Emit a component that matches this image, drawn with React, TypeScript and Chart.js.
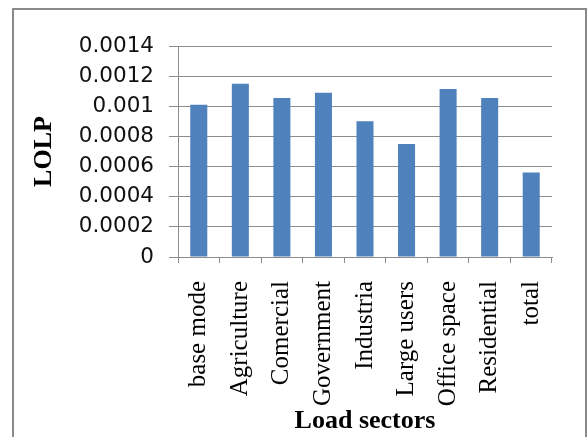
import React, { useEffect, useRef } from "react";
import { Chart, registerables } from "chart.js";

Chart.register(...registerables);

const categories = [
  "base mode",
  "Agriculture",
  "Comercial",
  "Government",
  "Industria",
  "Large users",
  "Office space",
  "Residential",
  "total",
];
const lolpValues = [0.00101, 0.00115, 0.001055, 0.00109, 0.0009, 0.00075, 0.001115, 0.001055, 0.00056];
const yTickValues = [0, 0.0002, 0.0004, 0.0006, 0.0008, 0.001, 0.0012, 0.0014];
const yTickLabels = ["0", "0.0002", "0.0004", "0.0006", "0.0008", "0.001", "0.0012", "0.0014"];

const GRID = "#8c8c8c";

export default function App() {
  const ref = useRef<HTMLCanvasElement | null>(null);

  useEffect(() => {
    if (!ref.current) return;
    const chart = new Chart(ref.current, {
      type: "bar",
      data: {
        labels: categories,
        datasets: [
          {
            data: lolpValues,
            backgroundColor: "#4F81BD",
            categoryPercentage: 1,
            barPercentage: 0.41,
          },
        ],
      },
      options: {
        responsive: false,
        animation: false,
        layout: { padding: { top: 46, right: 36, bottom: 0, left: 0 } },
        plugins: { legend: { display: false }, tooltip: { enabled: false } },
        scales: {
          x: {
            grid: {
              display: true,
              drawOnChartArea: false,
              drawTicks: true,
              tickLength: 6,
              color: GRID,
              offset: true,
            },
            border: { display: true, color: GRID, width: 1 },
            ticks: {
              autoSkip: false,
              maxRotation: 90,
              minRotation: 90,
              padding: 18,
              color: "#000",
              font: { family: "'Liberation Serif', 'Times New Roman', serif", size: 25 },
            },
            title: {
              display: true,
              text: "Load sectors",
              color: "#000",
              padding: 3,
              font: { family: "'Liberation Serif', 'Times New Roman', serif", size: 26, weight: "bold", lineHeight: 1 },
            },
            afterFit: (scale: any) => {
              scale.height = 180;
            },
          },
          y: {
            min: 0,
            max: 0.0014,
            afterBuildTicks: (scale: any) => {
              scale.ticks = yTickValues.map((v) => ({ value: v }));
            },
            grid: { color: GRID, lineWidth: 1, tickLength: 9, drawTicks: true },
            border: { display: true, color: GRID, width: 1 },
            ticks: {
              padding: 15,
              color: "#111",
              font: { family: "'DejaVu Sans', sans-serif", size: 21.5 },
              callback: (_v: any, i: number) => yTickLabels[i],
            },
            title: {
              display: true,
              text: "LOLP",
              color: "#000",
              padding: 31,
              font: { family: "'Liberation Serif', 'Times New Roman', serif", size: 26, weight: "bold", lineHeight: 1 },
            },
            afterFit: (scale: any) => {
              scale.width = 178;
            },
          },
        },
      },
    });
    return () => chart.destroy();
  }, []);

  return (
    <div style={{ position: "absolute", left: 0, top: 0, width: 588, height: 437, background: "#fff", overflow: "hidden" }}>
      <div
        style={{
          position: "absolute",
          left: 12,
          top: 8,
          width: 571,
          height: 440,
          border: "2px solid #8a8a8a",
          borderBottom: "none",
        }}
      />
      <canvas ref={ref} width={588} height={437} style={{ position: "absolute", left: 0, top: 0 }} />
    </div>
  );
}
